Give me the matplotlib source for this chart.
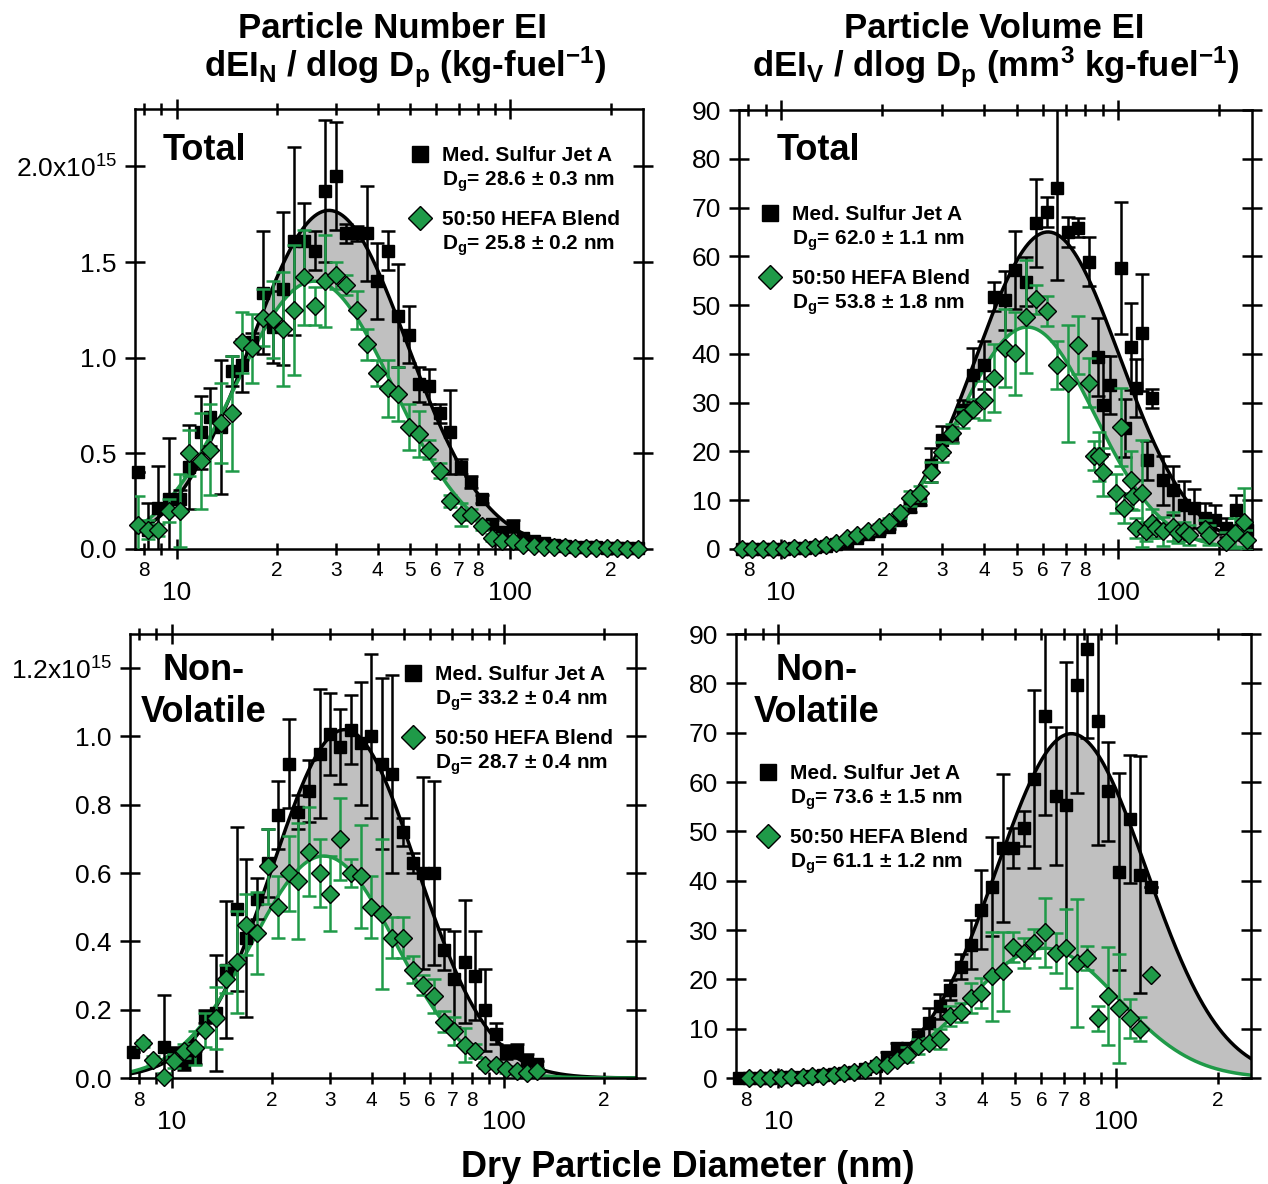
import numpy as np
import matplotlib
matplotlib.use("Agg")
import matplotlib.pyplot as plt
from matplotlib.lines import Line2D
from matplotlib.ticker import FixedLocator, FixedFormatter

plt.rcParams["font.family"] = ["Liberation Sans", "DejaVu Sans"]
plt.rcParams["mathtext.fontset"] = "custom"
plt.rcParams["mathtext.rm"] = "Liberation Sans"
plt.rcParams["mathtext.bf"] = "Liberation Sans:bold"
plt.rcParams["mathtext.it"] = "Liberation Sans:italic"

# ── Data (number EI in units of 1e15 / kg-fuel, volume EI in mm3 / kg-fuel) ──

# common SMPS channel diameters (nm)
d_grid = [7.64, 8.21, 8.82, 9.48, 10.2, 10.9, 11.8, 12.6, 13.6, 14.6, 15.7, 16.8,
          18.1, 19.5, 20.9, 22.5, 24.1, 25.9, 27.9, 30.0, 32.2, 34.6, 37.2, 39.9,
          42.9, 46.1, 49.6, 53.3, 57.2, 61.5, 66.1, 71.0, 76.3, 82.0, 88.1, 94.7,
          101.8, 109.4, 117.5, 126.3, 135.7, 145.8, 156.7, 168.4, 180.9, 194.4,
          208.9, 224.5, 241.2]

# Total number
num_tot_jet_d = d_grid
num_tot_jet = [0.40, 0.10, 0.215, 0.26, 0.26, 0.43, 0.61, 0.69, 0.64, 0.93, 0.96, 1.08,
               1.34, 1.16, 1.36, 1.61, 1.61, 1.56, 1.87, 1.95, 1.65, 1.65, 1.65, 1.40,
               1.56, 1.22, 1.12, 0.86, 0.85, 0.71, 0.61, 0.43, 0.35, 0.26, 0.13, 0.09,
               0.12, 0.06, 0.04, 0.03, 0.02, 0.015, 0.01, 0.01, 0.008, 0.006, 0.005,
               0.004, 0.003]
num_tot_jet_err = [0.0, 0.14, 0.22, 0.32, 0.05, 0.22, 0.19, 0.15, 0.35, 0.08, 0.14, 0.05,
                   0.32, 0.19, 0.40, 0.49, 0.20, 0.10, 0.37, 0.28, 0.05, 0.04, 0.25, 0.20,
                   0.10, 0.27, 0.15, 0.09, 0.09, 0.05, 0.22, 0.04, 0.03, 0.02, 0.02, 0.02,
                   0.03, 0.01, 0.01, 0.01, 0.01, 0.01, 0.01, 0.01, 0.01, 0.01, 0.01, 0.01,
                   0.01]
num_tot_hefa_d = d_grid
num_tot_hefa = [0.125, 0.10, 0.10, 0.20, 0.20, 0.50, 0.46, 0.52, 0.66, 0.71, 1.08, 1.05,
                1.21, 1.20, 1.15, 1.25, 1.42, 1.27, 1.40, 1.43, 1.38, 1.25, 1.07, 0.92,
                0.84, 0.81, 0.64, 0.60, 0.52, 0.41, 0.25, 0.18, 0.18, 0.12, 0.06, 0.04,
                0.04, 0.02, 0.015, 0.01, 0.01, 0.01, 0.005, 0.005, 0.005, 0.003, 0.003,
                0.002, 0.002]
num_tot_hefa_err = [0.15, 0.05, 0.03, 0.06, 0.19, 0.12, 0.25, 0.24, 0.21, 0.30, 0.16, 0.18,
                    0.15, 0.20, 0.30, 0.34, 0.25, 0.10, 0.24, 0.07, 0.05, 0.10, 0.08, 0.07,
                    0.15, 0.14, 0.12, 0.12, 0.05, 0.04, 0.03, 0.06, 0.03, 0.02, 0.02, 0.01,
                    0.01, 0.01, 0.01, 0.01, 0.01, 0.01, 0.01, 0.01, 0.01, 0.01, 0.01, 0.01,
                    0.01]

# Total volume
vol_tot_jet_d = [7.64, 8.21, 8.82, 9.48, 10.2, 10.9, 11.8, 12.6, 13.6, 14.6, 15.7, 16.8,
                 18.1, 19.5, 20.9, 22.5, 24.1, 25.9, 27.9, 30.0, 32.2, 34.6, 37.2, 39.9,
                 42.9, 46.1, 49.6, 53.3, 57.2, 61.5, 66.1, 71.0, 76.3, 82.0, 87.0, 90.0,
                 95.0, 101.8, 105.0, 109.4, 113.0, 117.5, 122.0, 126.3, 135.7, 145.8,
                 156.7, 168.4, 180.9, 194.4, 208.9, 224.5, 241.2]
vol_tot_jet = [0, 0, 0, 0.05, 0.1, 0.2, 0.3, 0.4, 0.6, 1.0, 1.5, 2.2, 3.0, 3.6, 4.6,
               6.0, 8.6, 10.0, 17.2, 22.3, 23.5, 28.5, 35.7, 37.7, 51.7, 51.0, 57.2,
               54.8, 66.8, 69.1, 74.1, 65.0, 65.9, 58.9, 39.4, 29.5, 33.6, 57.6, 24.8,
               41.5, 33.0, 44.3, 18.2, 30.9, 14.1, 12.0, 9.0, 8.4, 6.4, 6.0, 4.4, 8.0, 3.9]
vol_tot_jet_err = [0.2, 0.2, 0.2, 0.2, 0.2, 0.2, 0.2, 0.2, 0.3, 0.3, 0.3, 0.4, 0.5, 0.5,
                   0.6, 0.8, 1.0, 1.0, 3.5, 3.0, 1.5, 2.0, 5.5, 5.0, 3.0, 6.0, 8.0, 5.0,
                   9.0, 3.0, 19.0, 3.0, 2.0, 5.0, 8.0, 10.0, 6.0, 13.5, 6.0, 9.0, 6.0,
                   12.0, 4.0, 2.0, 5.0, 5.0, 5.0, 4.0, 3.0, 3.0, 2.0, 3.0, 2.0]
vol_tot_hefa_d = [7.64, 8.21, 8.82, 9.48, 10.2, 10.9, 11.8, 12.6, 13.6, 14.6, 15.7, 16.8,
                  18.1, 19.5, 20.9, 22.5, 24.1, 25.9, 27.9, 30.0, 32.2, 34.6, 37.2, 39.9,
                  42.9, 46.1, 49.6, 53.3, 57.2, 61.5, 66.1, 71.0, 76.3, 82.0, 85.0, 88.1,
                  90.5, 99.0, 101.8, 104.0, 109.4, 111.0, 113.0, 117.5, 121.0, 126.3,
                  130.0, 136.0, 145.8, 151.0, 156.7, 163.0, 180.9, 186.0, 208.9, 222.0,
                  236.0, 241.2]
vol_tot_hefa = [0, 0, 0, 0.05, 0.1, 0.2, 0.3, 0.4, 0.8, 1.2, 2.2, 2.9, 3.6, 4.6, 5.6,
                7.3, 10.4, 11.4, 15.8, 19.9, 23.7, 26.8, 28.8, 30.5, 35.0, 41.3, 40.1,
                47.6, 51.2, 48.8, 37.7, 34.0, 41.8, 34.1, 19.1, 19.0, 15.8, 11.4, 25.1,
                8.4, 14.1, 10.9, 4.3, 11.4, 3.6, 5.3, 4.3, 3.6, 4.6, 3.3, 3.6, 2.9, 4.0,
                2.9, 1.5, 3.3, 5.6, 1.8]
vol_tot_hefa_err = [0.3, 0.3, 0.3, 0.3, 0.3, 0.3, 0.3, 0.3, 0.3, 0.3, 0.4, 0.5, 0.5, 0.6,
                    0.8, 1.0, 1.5, 1.5, 2.0, 2.0, 2.0, 2.0, 2.0, 4.0, 7.0, 8.0, 8.5, 11.6,
                    3.0, 3.0, 5.0, 12.0, 6.0, 5.0, 3.0, 5.0, 5.0, 4.0, 8.0, 3.0, 6.0, 3.0,
                    2.0, 11.0, 2.0, 3.0, 2.0, 3.0, 3.0, 2.0, 2.0, 2.0, 2.0, 2.0, 2.0, 3.0,
                    7.0, 2.0]

# Non-volatile number
num_nv_jet_d = [7.64] + d_grid[3:40]
num_nv_jet = [0.077, 0.092, 0.07, 0.043, 0.06, 0.18, 0.19, 0.317, 0.495, 0.41, 0.525,
              0.63, 0.77, 0.92, 0.78, 0.84, 0.95, 1.006, 0.97, 1.02, 0.98, 1.00, 0.92,
              0.89, 0.72, 0.63, 0.60, 0.60, 0.375, 0.29, 0.34, 0.30, 0.20, 0.13, 0.077,
              0.08, 0.05, 0.04]
num_nv_jet_err = [0.0, 0.15, 0.02, 0.02, 0.02, 0.02, 0.17, 0.20, 0.24, 0.23, 0.06, 0.10,
                  0.10, 0.13, 0.05, 0.09, 0.19, 0.12, 0.11, 0.10, 0.18, 0.24, 0.25, 0.29,
                  0.04, 0.03, 0.28, 0.27, 0.06, 0.14, 0.18, 0.13, 0.12, 0.03, 0.02, 0.02,
                  0.02, 0.01]
num_nv_hefa_d = d_grid[1:40]
num_nv_hefa = [0.102, 0.053, 0.004, 0.05, 0.08, 0.089, 0.14, 0.176, 0.29, 0.34, 0.449,
               0.425, 0.62, 0.50, 0.60, 0.576, 0.663, 0.60, 0.54, 0.70, 0.60, 0.59, 0.50,
               0.48, 0.41, 0.41, 0.317, 0.273, 0.24, 0.165, 0.138, 0.097, 0.08, 0.038,
               0.038, 0.025, 0.02, 0.015, 0.02]
num_nv_hefa_err = [0.01, 0.01, 0.01, 0.02, 0.02, 0.05, 0.05, 0.09, 0.04, 0.15, 0.09,
                   0.12, 0.11, 0.09, 0.11, 0.17, 0.13, 0.10, 0.11, 0.12, 0.04, 0.15, 0.09,
                   0.22, 0.06, 0.06, 0.04, 0.03, 0.05, 0.03, 0.04, 0.05, 0.02, 0.01, 0.01,
                   0.01, 0.01, 0.01, 0.01]

# Non-volatile volume
vol_nv_jet_d = d_grid[0:40]
vol_nv_jet = [0, 0.1, 0.1, 0.1, 0.2, 0.2, 0.3, 0.4, 0.6, 0.8, 1.0, 1.3, 1.8, 2.4, 4.3,
              6.1, 6.1, 8.4, 11.2, 14.5, 17.8, 22.6, 27.0, 34.1, 38.8, 46.6, 46.6, 50.6,
              60.6, 73.4, 57.2, 55.4, 79.7, 87.0, 72.3, 58.1, 41.8, 52.5, 41.2, 38.8]
vol_nv_jet_err = [0.2, 0.2, 0.2, 0.2, 0.2, 0.2, 0.2, 0.2, 0.2, 0.2, 0.2, 0.2, 0.2, 0.2,
                  1.0, 1.0, 1.0, 1.5, 3.0, 2.5, 2.0, 2.5, 5.0, 8.0, 10.0, 15.0, 4.0, 3.5,
                  18.0, 20.0, 14.0, 29.0, 22.0, 18.0, 25.0, 10.0, 20.0, 13.0, 24.0, 0.0]
vol_nv_hefa_d = d_grid[1:40]
vol_nv_hefa = [0.1, 0.1, 0.1, 0.1, 0.2, 0.2, 0.4, 0.4, 0.6, 0.95, 1.3, 1.6, 2.6, 2.6,
               3.7, 4.7, 6.4, 7.1, 7.9, 12.6, 13.3, 16.2, 17.2, 20.6, 21.6, 26.6, 25.3,
               27.3, 29.5, 25.3, 26.3, 23.3, 24.3, 12.1, 16.6, 14.1, 12.1, 9.9, 20.9]
vol_nv_hefa_err = [0.2, 0.2, 0.2, 0.2, 0.2, 0.2, 0.2, 0.2, 0.2, 0.2, 0.2, 0.2, 0.2, 0.2,
                   0.5, 1.5, 1.5, 1.0, 2.0, 2.0, 2.0, 3.0, 3.0, 9.0, 8.0, 3.0, 3.0, 3.0,
                   7.0, 4.0, 8.0, 13.0, 2.5, 2.5, 10.0, 11.0, 4.0, 2.5, 0.0]

# lognormal fits: (peak height, Dg [nm], ln sigma_g)
fit_num_tot = [(1.77, 28.6, 0.54), (1.40, 25.8, 0.545)]
fit_vol_tot = [(65.0, 62.0, 0.49), (45.5, 53.8, 0.46)]
fit_num_nv = [(1.02, 33.2, 0.50), (0.65, 28.7, 0.50)]
fit_vol_nv = [(69.8, 73.6, 0.51), (26.3, 61.1, 0.51)]

series_names = ["Med. Sulfur Jet A", "50:50 HEFA Blend"]
dg_labels = {
    "num_tot": ["28.6 ± 0.3", "25.8 ± 0.2"],
    "vol_tot": ["62.0 ± 1.1", "53.8 ± 1.8"],
    "num_nv": ["33.2 ± 0.4", "28.7 ± 0.4"],
    "vol_nv": ["73.6 ± 1.5", "61.1 ± 1.2"],
}

minor_x = [8, 9, 20, 30, 40, 50, 60, 70, 80, 90, 200]
minor_x_labels = ["8", "", "2", "3", "4", "5", "6", "7", "8", "", "2"]

GREEN = "#1f9a48"
GRAY = "#c0c0c0"
W, H = 1268, 1184


def fx(x):
    return x / W


def fy(y):
    return 1 - y / H


def lognormal(d, amp, dg, s):
    return amp * np.exp(-np.log(d / dg) ** 2 / (2 * s ** 2))


fig = plt.figure(figsize=(W / 100, H / 100), dpi=100)


def draw_panel(box, ylim, yticks, yticklabels, jet, hefa, fits):
    l, t, r, b = box
    ax = fig.add_axes([fx(l), fy(b), (r - l) / W, (b - t) / H])
    ax.set_xscale("log")

    d = np.logspace(np.log10(7.5), np.log10(250), 400)
    yb = lognormal(d, *fits[0])
    yg = lognormal(d, *fits[1])
    ax.fill_between(d, yb, yg, color=GRAY, lw=0, zorder=1)
    ax.plot(d, yb, color="black", lw=2.5, zorder=2)
    ax.plot(d, yg, color=GREEN, lw=2.5, zorder=2)

    dj, vj, ej = jet
    ax.errorbar(dj, vj, yerr=ej, fmt="none", ecolor="black", elinewidth=1.8,
                capsize=5, capthick=1.8, zorder=3)
    ax.plot(dj, vj, "s", ms=8, mfc="black", mec="black", zorder=4, clip_on=False)
    dh, vh, eh = hefa
    ax.errorbar(dh, vh, yerr=eh, fmt="none", ecolor=GREEN, elinewidth=1.8,
                capsize=5, capthick=1.8, zorder=5)
    ax.plot(dh, vh, "D", ms=9, mfc=GREEN, mec="black", mew=1.0, zorder=6,
            clip_on=False)

    ax.set_xlim(7.5, 250)
    ax.set_ylim(*ylim)
    ax.xaxis.set_major_locator(FixedLocator([10, 100]))
    ax.xaxis.set_major_formatter(FixedFormatter(["10", "100"]))
    ax.xaxis.set_minor_locator(FixedLocator(minor_x))
    ax.xaxis.set_minor_formatter(FixedFormatter(minor_x_labels))
    ax.tick_params(axis="x", which="major", direction="inout", length=14, width=1.8,
                   top=True, labelsize=19, pad=16)
    ax.tick_params(axis="x", which="minor", direction="inout", length=8, width=1.8,
                   top=True, labelsize=15, pad=5)
    ax.set_yticks(yticks)
    ax.set_yticklabels(yticklabels)
    ax.tick_params(axis="y", direction="inout", length=14, width=1.8, right=True,
                   labelsize=19, pad=6)
    for sp in ax.spines.values():
        sp.set_linewidth(1.8)
    return ax


def legend_block(mx, y0, dgs):
    fig.add_artist(Line2D([fx(mx)], [fy(y0)], marker="s", ms=11, mfc="black",
                          mec="black", transform=fig.transFigure))
    fig.add_artist(Line2D([fx(mx)], [fy(y0 + 64)], marker="D", ms=12.5, mfc=GREEN,
                          mec="black", mew=1.0, transform=fig.transFigure))
    tx = mx + 22
    for i, name in enumerate(series_names):
        yc = y0 + 64 * i
        fig.text(fx(tx), fy(yc + 7), name, fontsize=15, fontweight="bold",
                 va="baseline")
        fig.text(fx(tx), fy(yc + 32), r"D$_\mathbf{g}$= " + dgs[i] + " nm",
                 fontsize=15, fontweight="bold", va="baseline")


num_tot_ticks = [0, 0.5, 1.0, 1.5, 2.0]
num_tot_ticklabels = ["0.0", "0.5", "1.0", "1.5", r"2.0x10$^\mathrm{15}$"]
num_nv_ticks = [0, 0.2, 0.4, 0.6, 0.8, 1.0, 1.2]
num_nv_ticklabels = ["0.0", "0.2", "0.4", "0.6", "0.8", "1.0", r"1.2x10$^\mathrm{15}$"]
vol_ticks = [0, 10, 20, 30, 40, 50, 60, 70, 80, 90]
vol_ticklabels = [str(v) for v in vol_ticks]

draw_panel((135, 109, 643, 549), (0, 2.30), num_tot_ticks, num_tot_ticklabels,
           (num_tot_jet_d, num_tot_jet, num_tot_jet_err),
           (num_tot_hefa_d, num_tot_hefa, num_tot_hefa_err), fit_num_tot)
draw_panel((739, 110, 1252, 549), (0, 90), vol_ticks, vol_ticklabels,
           (vol_tot_jet_d, vol_tot_jet, vol_tot_jet_err),
           (vol_tot_hefa_d, vol_tot_hefa, vol_tot_hefa_err), fit_vol_tot)
draw_panel((130, 634, 636, 1078), (0, 1.30), num_nv_ticks, num_nv_ticklabels,
           (num_nv_jet_d, num_nv_jet, num_nv_jet_err),
           (num_nv_hefa_d, num_nv_hefa, num_nv_hefa_err), fit_num_nv)
draw_panel((736, 634, 1251, 1078), (0, 90), vol_ticks, vol_ticklabels,
           (vol_nv_jet_d, vol_nv_jet, vol_nv_jet_err),
           (vol_nv_hefa_d, vol_nv_hefa, vol_nv_hefa_err), fit_vol_nv)

legend_block(420, 154, dg_labels["num_tot"])
legend_block(770, 213, dg_labels["vol_tot"])
legend_block(413, 673, dg_labels["num_nv"])
legend_block(768, 772, dg_labels["vol_nv"])

# panel labels
bold = dict(fontweight="bold", fontsize=26, va="baseline")
fig.text(fx(163), fy(160), "Total", ha="left", **bold)
fig.text(fx(777), fy(160), "Total", ha="left", **bold)
fig.text(fx(204), fy(680), "Non-", ha="center", **bold)
fig.text(fx(204), fy(722), "Volatile", ha="center", **bold)
fig.text(fx(817), fy(680), "Non-", ha="center", **bold)
fig.text(fx(817), fy(722), "Volatile", ha="center", **bold)

# column headers
head = dict(fontweight="bold", fontsize=25, va="baseline", ha="center")
fig.text(fx(393), fy(38), "Particle Number EI", **head)
fig.text(fx(405), fy(77),
         r"dEI$_\mathbf{N}$ / dlog D$_\mathbf{p}$ (kg-fuel$^\mathbf{-1}$)", **head)
fig.text(fx(994), fy(38), "Particle Volume EI", **head)
fig.text(fx(996), fy(77),
         r"dEI$_\mathbf{V}$ / dlog D$_\mathbf{p}$ (mm$^\mathbf{3}$ kg-fuel$^\mathbf{-1}$)",
         **head)

fig.text(fx(688), fy(1177), "Dry Particle Diameter (nm)", fontweight="bold",
         fontsize=26, va="baseline", ha="center")

fig.savefig("out.png", dpi=100)
